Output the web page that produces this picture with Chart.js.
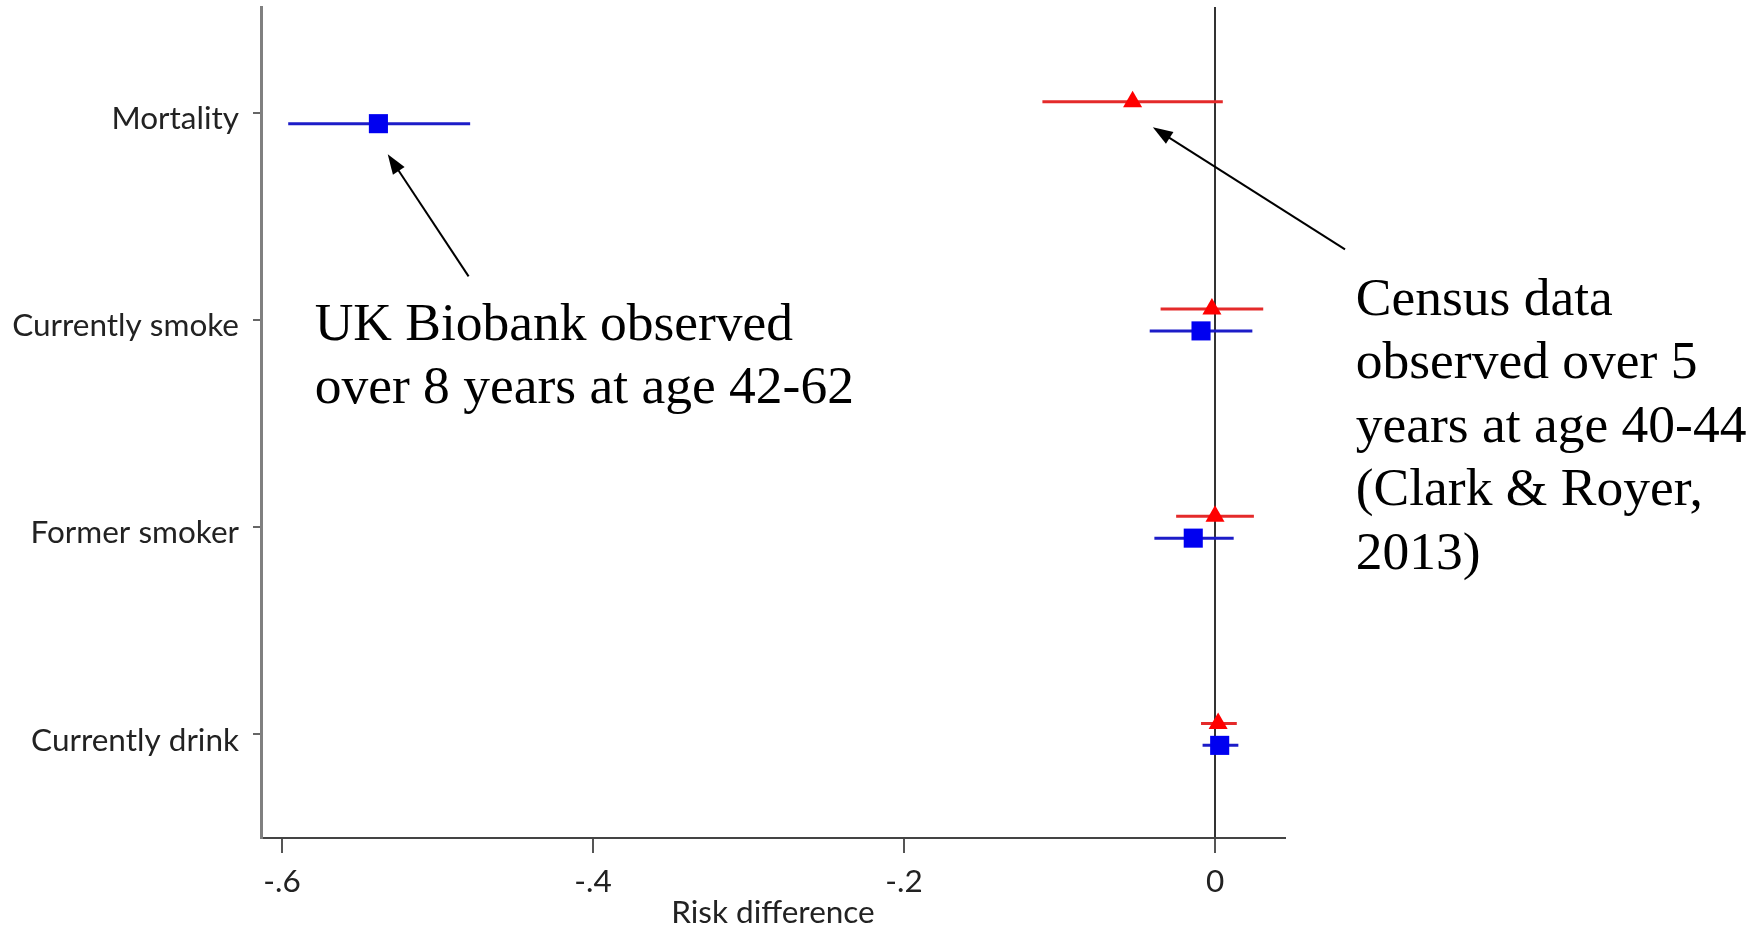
<!DOCTYPE html>
<html>
<head>
<meta charset="utf-8">
<title>Risk difference</title>
<script src="https://cdn.jsdelivr.net/npm/chart.js@4/dist/chart.umd.min.js"></script>
<style>
  html, body { margin: 0; padding: 0; background: #fff; }
  #wrap { width: 1764px; height: 927px; position: relative; }
</style>
</head>
<body>
<div id="wrap"><canvas id="chart"></canvas></div>
<script>
// Outcomes on the vertical axis, top to bottom
const outcomes = ['Mortality', 'Currently smoke', 'Former smoker', 'Currently drink'];

// UK Biobank risk differences with 95% intervals
const biobankEstimate = [-0.538, -0.009, -0.014, 0.003];
const biobankLower = [-0.596, -0.042, -0.039, -0.008];
const biobankUpper = [-0.479, 0.024, 0.012, 0.015];

// Census risk differences with 95% intervals
const censusEstimate = [-0.053, -0.002, 0.000, 0.002];
const censusLower = [-0.111, -0.035, -0.025, -0.009];
const censusUpper = [0.005, 0.031, 0.025, 0.014];

const xTickValues = [-0.6, -0.4, -0.2, 0];
const xTickLabels = ['-.6', '-.4', '-.2', '0'];

const biobankNote = ['UK Biobank observed', 'over 8 years at age 42-62'];
const censusNote = ['Census data', 'observed over 5', 'years at age 40-44', '(Clark & Royer,', '2013)'];

const BLUE = '#0000f0';
const BLUE_LINE = '#1c1cc8';
const RED = '#ff0000';
const RED_LINE = '#e42a2a';
const CENSUS_SHIFT = -0.053;   // census rows sit just above the outcome tick
const BIOBANK_SHIFT = 0.053;   // biobank rows just below
const TICK_FONT = { family: 'Lato', size: 31.5 };

function intervalSets(lower, upper, shift, color) {
  return outcomes.map((name, i) => ({
    type: 'line',
    label: name + ' interval',
    data: [{ x: lower[i], y: i + 1 + shift }, { x: upper[i], y: i + 1 + shift }],
    borderColor: color,
    borderWidth: 3,
    pointRadius: 0,
    fill: false,
    order: 2
  }));
}

function pointSet(estimate, shift, color, style, radius) {
  return {
    type: 'scatter',
    label: style,
    data: estimate.map((v, i) => ({ x: v, y: i + 1 + shift })),
    backgroundColor: color,
    borderColor: color,
    borderWidth: 0,
    pointStyle: style,
    pointRadius: radius,
    pointHoverRadius: radius,
    order: 1
  };
}

// Text notes and arrows placed in data coordinates
const notes = [
  { lines: biobankNote, x: -0.579, y: 2.095, arrow: [[-0.480, 1.79], [-0.532, 1.20]] },
  { lines: censusNote, x: 0.0905, y: 1.975, arrow: [[0.0836, 1.66], [-0.040, 1.07]] }
];

const notePlugin = {
  id: 'notes',
  afterDatasetsDraw(chart) {
    const { ctx, scales: { x, y } } = chart;
    ctx.save();
    ctx.fillStyle = '#000';
    ctx.strokeStyle = '#000';
    ctx.font = '53.5px "Liberation Serif"';
    ctx.textBaseline = 'alphabetic';
    ctx.textAlign = 'left';
    notes.forEach(n => {
      const px = x.getPixelForValue(n.x);
      const py = y.getPixelForValue(n.y);
      n.lines.forEach((t, k) => ctx.fillText(t, px, py + k * 63.5));

      const [from, to] = n.arrow;
      const x0 = x.getPixelForValue(from[0]), y0 = y.getPixelForValue(from[1]);
      const x1 = x.getPixelForValue(to[0]), y1 = y.getPixelForValue(to[1]);
      const ang = Math.atan2(y1 - y0, x1 - x0);
      const head = 20, half = 7;
      ctx.lineWidth = 2;
      ctx.beginPath();
      ctx.moveTo(x0, y0);
      ctx.lineTo(x1 - Math.cos(ang) * head * 0.8, y1 - Math.sin(ang) * head * 0.8);
      ctx.stroke();
      ctx.beginPath();
      ctx.moveTo(x1, y1);
      ctx.lineTo(x1 - Math.cos(ang) * head - Math.sin(ang) * half, y1 - Math.sin(ang) * head + Math.cos(ang) * half);
      ctx.lineTo(x1 - Math.cos(ang) * head + Math.sin(ang) * half, y1 - Math.sin(ang) * head - Math.cos(ang) * half);
      ctx.closePath();
      ctx.fill();
    });
    ctx.restore();
  }
};

Chart.defaults.font.family = 'Lato';
Chart.defaults.color = '#222';

new Chart(document.getElementById('chart').getContext('2d'), {
  type: 'scatter',
  data: {
    datasets: [
      ...intervalSets(censusLower, censusUpper, CENSUS_SHIFT, RED_LINE),
      ...intervalSets(biobankLower, biobankUpper, BIOBANK_SHIFT, BLUE_LINE),
      pointSet(censusEstimate, CENSUS_SHIFT, RED, 'triangle', 11),
      pointSet(biobankEstimate, BIOBANK_SHIFT, BLUE, 'rect', 13.5)
    ]
  },
  options: {
    responsive: true,
    maintainAspectRatio: false,
    animation: false,
    layout: { autoPadding: false, padding: { top: 7, right: 479, left: 0, bottom: 0 } },
    plugins: {
      legend: { display: false },
      tooltip: { enabled: false }
    },
    scales: {
      x: {
        type: 'linear',
        min: -0.6135,
        max: 0.045,
        afterBuildTicks: scale => { scale.ticks = xTickValues.map(v => ({ value: v })); },
        afterFit: scale => { scale.height = 89; },
        ticks: {
          font: TICK_FONT,
          color: '#222',
          padding: 10,
          maxRotation: 0,
          callback: (v) => xTickLabels[xTickValues.indexOf(v)]
        },
        grid: {
          color: c => (c.tick && c.tick.value === 0 ? '#333' : 'rgba(0,0,0,0)'),
          lineWidth: 2,
          tickColor: '#555',
          tickLength: 15,
          drawTicks: true
        },
        border: { display: true, color: '#444', width: 2 },
        title: {
          display: true,
          text: 'Risk difference',
          font: TICK_FONT,
          color: '#222',
          padding: { top: 0, bottom: -5 }
        }
      },
      y: {
        type: 'linear',
        reverse: true,
        min: 0.49,
        max: 4.5,
        afterBuildTicks: scale => { scale.ticks = outcomes.map((o, i) => ({ value: i + 1 })); },
        afterFit: scale => {
          scale.width = 261;
          scale.paddingTop = 0;
          scale.paddingBottom = 0;
        },
        ticks: {
          font: TICK_FONT,
          color: '#222',
          padding: 14,
          labelOffset: 6,
          callback: (v) => outcomes[v - 1]
        },
        grid: {
          drawOnChartArea: false,
          tickColor: '#666',
          tickLength: 8,
          lineWidth: 2
        },
        border: { display: true, color: '#808080', width: 3 }
      }
    }
  },
  plugins: [notePlugin]
});
</script>
</body>
</html>
